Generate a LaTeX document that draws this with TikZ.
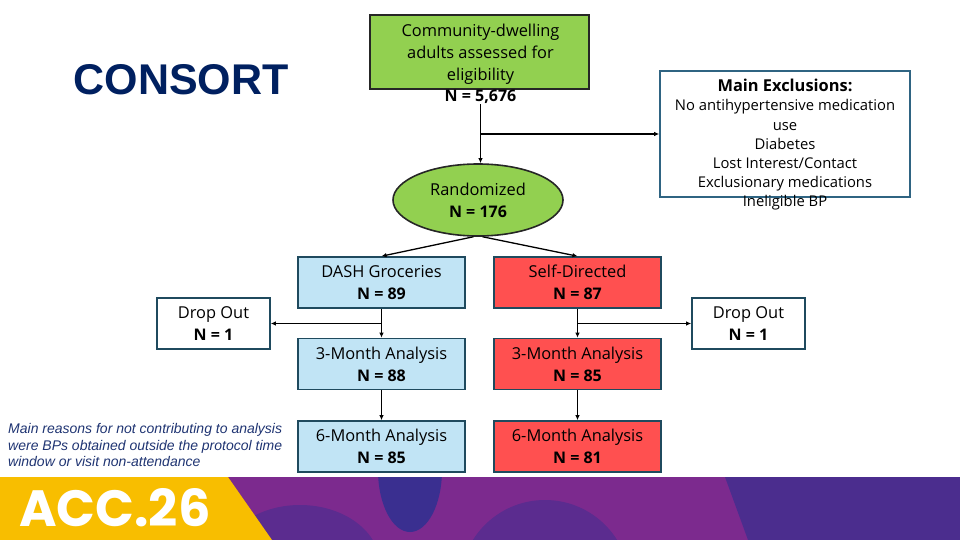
\documentclass[tikz,border=0pt]{standalone}
\usepackage{fontspec}
\setmainfont{Liberation Sans}
\newfontfamily\boxfont{Open Sans}
\newfontfamily\accfont{Poppins}
\usepackage{tikz}
\usetikzlibrary{shapes.geometric}
\usetikzlibrary{arrows.meta}
\definecolor{boxgreen}{HTML}{92D050}
\definecolor{boxblue}{HTML}{C1E4F5}
\definecolor{boxred}{HTML}{FF5050}
\definecolor{boxedge}{HTML}{1F4A5E}
\definecolor{excledge}{HTML}{2F6482}
\definecolor{titlenavy}{HTML}{002060}
\definecolor{notenavy}{HTML}{1F3472}
\definecolor{accyellow}{HTML}{F8BE00}
\definecolor{accpurple}{HTML}{7C2A8E}
\definecolor{accviolet}{HTML}{5B2C8F}
\definecolor{accblue}{HTML}{3A2F90}
\definecolor{accright}{HTML}{4B2D8E}
\tikzset{
  flowbox/.style={draw=boxedge, line width=1.6pt, minimum width=167pt,
    minimum height=51pt, inner sep=0pt, align=center,
    font=\boxfont\fontsize{16.4}{22}\selectfont},
  dashbox/.style={flowbox, fill=boxblue},
  selfbox/.style={flowbox, fill=boxred},
  dropbox/.style={flowbox, fill=white, minimum width=113pt},
  arr/.style={line width=1.3pt, -{Latex[length=5pt,width=4.5pt]}}
}
\newcommand{\nbold}[1]{{\fontsize{16}{22}\selectfont\bfseries #1}}

\begin{document}
\begin{tikzpicture}[x=1pt, y=-1pt]
  \useasboundingbox (0,0) rectangle (960,540);

  % title
  \node[anchor=base, inner sep=0pt, text=titlenavy,
    font=\bfseries\fontsize{43}{43}\selectfont] (title) at (181,95) {CONSORT};

  % enrolment
  \node[draw=black!85, line width=1.6pt, fill=boxgreen, minimum width=219pt,
    minimum height=74pt] (elig) at (479.5,52) {};
  \node[align=center, inner sep=0pt, font=\boxfont\fontsize{16.4}{21.7}\selectfont]
    (eligtxt) at (480.5,64) {Community-dwelling\\adults assessed for\\eligibility\\\nbold{N = 5,676}};

  \node[draw=excledge, line width=1.6pt, minimum width=250pt,
    minimum height=126pt] (excl) at (785,134) {};
  \node[anchor=north, align=center, inner sep=0pt,
    font=\boxfont\fontsize{14.8}{19.2}\selectfont] (excltxt) at (785,79)
    {{\bfseries\fontsize{16.4}{19.2}\selectfont Main Exclusions:}\\
     No antihypertensive medication\\use\\Diabetes\\Lost Interest/Contact\\
     Exclusionary medications\\Ineligible BP};

  \node[ellipse, draw=black!85, line width=1.6pt, fill=boxgreen,
    minimum width=170pt, minimum height=72pt, inner sep=0pt, align=center,
    font=\boxfont\fontsize{16.4}{22}\selectfont] (rand) at (478,200)
    {Randomized\\\nbold{N = 176}};

  \draw[arr] (eligtxt.south) -- (eligtxt.south |- rand.north);
  \coordinate (exclfork) at (eligtxt.south |- excl.west);
  \draw[arr] (exclfork) -- (excl.west);

  % arms
  \node[dashbox] (dash) at (381.5,282.5) {DASH Groceries\\\nbold{N = 89}};
  \node[selfbox] (self) at (577.5,282.5) {Self-Directed\\\nbold{N = 87}};
  \node[dashbox] (dashm3) at (381.5,364) {3-Month Analysis\\\nbold{N = 88}};
  \node[selfbox] (selfm3) at (577.5,364) {3-Month Analysis\\\nbold{N = 85}};
  \node[dashbox] (dashm6) at (381.5,446.5) {6-Month Analysis\\\nbold{N = 85}};
  \node[selfbox] (selfm6) at (577.5,446.5) {6-Month Analysis\\\nbold{N = 81}};
  \node[dropbox] (dashdrop) at (213.5,323.5) {Drop Out\\\nbold{N = 1}};
  \node[dropbox] (selfdrop) at (748.5,323.5) {Drop Out\\\nbold{N = 1}};

  \draw[arr] (rand.-97) -- (dash.north);
  \draw[arr] (rand.-83) -- (self.north);
  \draw[arr] (dash.south) -- (dashm3.north);
  \draw[arr] (self.south) -- (selfm3.north);
  \draw[arr] (dash.south |- dashdrop.east) -- (dashdrop.east);
  \draw[arr] (self.south |- selfdrop.west) -- (selfdrop.west);
  \draw[arr] (dashm3.south) -- (dashm6.north);
  \draw[arr] (selfm3.south) -- (selfm6.north);

  \node[anchor=north west, align=left, inner sep=0pt, text=notenavy,
    font=\itshape\fontsize{14}{16.7}\selectfont] (note) at (8,423)
    {Main reasons for not contributing to analysis\\
     were BPs obtained outside the protocol time\\
     window or visit non-attendance};

  % banner
  \fill[accpurple] (0,477) rectangle (960,540);
  \begin{scope}
    \clip (0,477) rectangle (960,540);
    \fill[accviolet] (300,565) ellipse [x radius=80, y radius=60];
    \fill[accblue] (410,470) ellipse [x radius=32, y radius=62];
    \fill[accviolet] (545,585) circle [radius=85];
    \fill[accright] (725,477) -- (960,477) -- (960,540) -- (748,540) -- cycle;
  \end{scope}
  \fill[accyellow] (0,477) -- (228,477) -- (272,540) -- (0,540) -- cycle;
  \node[anchor=base west, inner sep=0pt, text=white,
    font=\accfont\bfseries\fontsize{51}{51}\selectfont] (acc) at (19,526) {ACC.26};
\end{tikzpicture}
\end{document}
